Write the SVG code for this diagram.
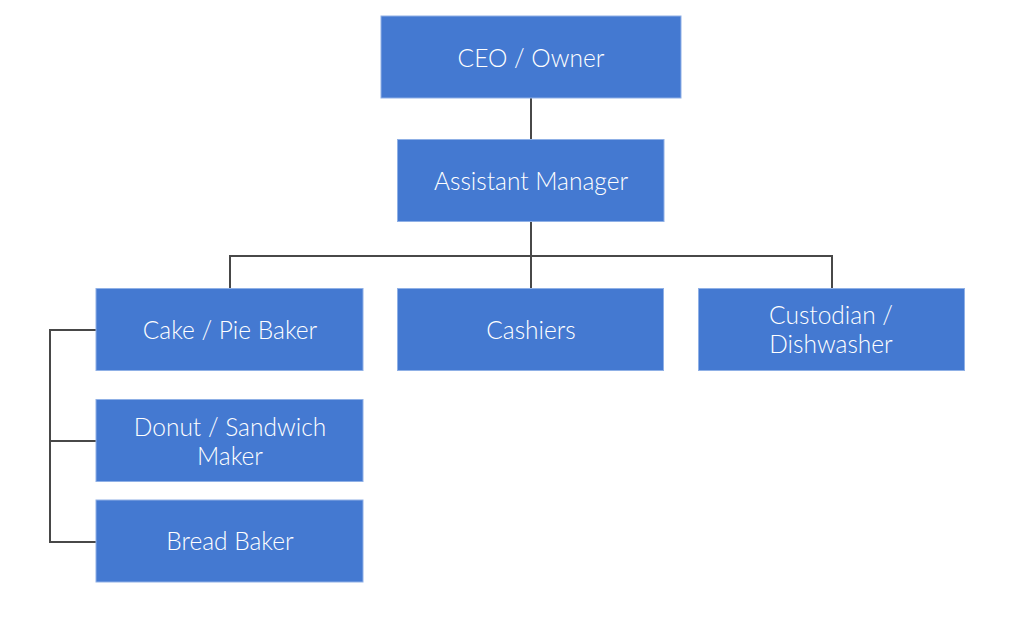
<svg xmlns="http://www.w3.org/2000/svg" width="1024" height="620" viewBox="0 0 1024 620">
<style>
.box{fill:#4479d1;stroke:#8fb0e6;stroke-width:1}
.t{font-family:Lato,"Noto Sans",sans-serif;font-size:24.5px;font-weight:300;fill:#ffffff;text-anchor:middle}
.c{fill:none;stroke:#484848;stroke-width:2}
</style>
<rect width="1024" height="620" fill="#ffffff"/>
<g id="connectors">
<path class="c" d="M531 98V139"/>
<path class="c" d="M531 222V289"/>
<path class="c" d="M230 289V256H832V289"/>
<path class="c" d="M96 330H50V542H96"/>
<path class="c" d="M50 441H96"/>
</g>
<g id="ceo"><rect class="box" x="381" y="16" width="300" height="82"/><text class="t" x="531" y="67">CEO / Owner</text></g>
<g id="assistant"><rect class="box" x="397.5" y="139.5" width="266.5" height="82"/><text class="t" x="531" y="190">Assistant Manager</text></g>
<g id="cake"><rect class="box" x="96" y="288.5" width="267" height="82"/><text class="t" x="230" y="339">Cake / Pie Baker</text></g>
<g id="cashiers"><rect class="box" x="397.5" y="288.5" width="266" height="82"/><text class="t" x="531" y="339">Cashiers</text></g>
<g id="custodian"><rect class="box" x="698.5" y="288.5" width="266" height="82"/><text class="t" x="831" y="324">Custodian /</text><text class="t" x="831" y="353">Dishwasher</text></g>
<g id="donut"><rect class="box" x="96" y="399.5" width="267" height="82"/><text class="t" x="230" y="436">Donut / Sandwich</text><text class="t" x="230" y="465">Maker</text></g>
<g id="bread"><rect class="box" x="96" y="500" width="267" height="82"/><text class="t" x="230" y="550">Bread Baker</text></g>
</svg>
